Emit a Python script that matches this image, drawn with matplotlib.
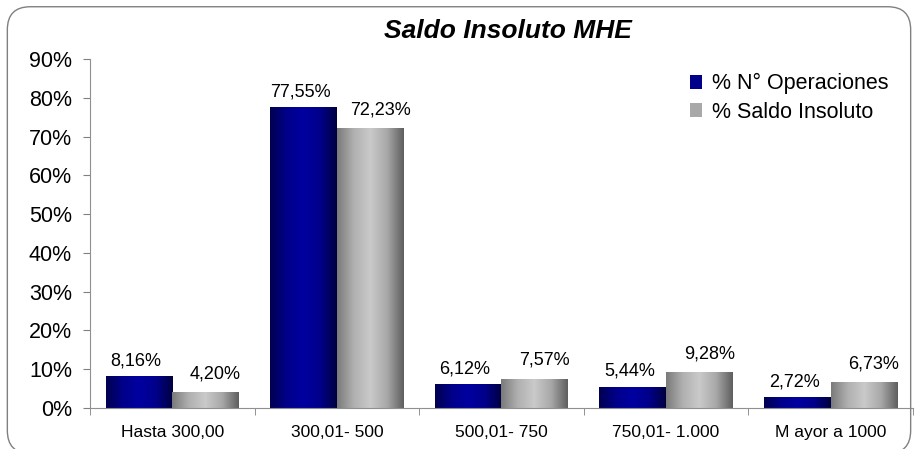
import numpy as np
import matplotlib
matplotlib.use("Agg")
import matplotlib.pyplot as plt
from matplotlib.colors import LinearSegmentedColormap
from matplotlib.patches import FancyBboxPatch, Patch

categories = ["Hasta 300,00", "300,01- 500", "500,01- 750", "750,01- 1.000", "M ayor a 1000"]
operaciones = [8.16, 77.55, 6.12, 5.44, 2.72]
saldo = [4.20, 72.23, 7.57, 9.28, 6.73]
ops_labels = ["8,16%", "77,55%", "6,12%", "5,44%", "2,72%"]
saldo_labels = ["4,20%", "72,23%", "7,57%", "9,28%", "6,73%"]
yticks = [0, 10, 20, 30, 40, 50, 60, 70, 80, 90]

plt.rcParams["font.family"] = ["Liberation Sans", "DejaVu Sans"]

blue_cmap = LinearSegmentedColormap.from_list(
    "blue", ["#000050", "#00008a", "#0000a0", "#00008a", "#000040"])
gray_cmap = LinearSegmentedColormap.from_list(
    "gray", ["#7a7a7a", "#b0b0b0", "#cacaca", "#a8a8a8", "#5e5e5e"])
grad = np.linspace(0, 1, 256).reshape(1, -1)

fig = plt.figure(figsize=(9.18, 4.49), dpi=100)
# marco redondeado alrededor de todo el grafico
fig.patches.append(FancyBboxPatch((0.008, -0.01), 0.984, 0.995,
                                  boxstyle="round,pad=0,rounding_size=0.025",
                                  transform=fig.transFigure, fill=False,
                                  edgecolor="#808080", linewidth=1.0,
                                  mutation_aspect=918 / 449))
ax = fig.add_axes([0.098, 0.0913, 0.8965, 0.777])

x = np.arange(len(categories))
w = 0.405
b1 = ax.bar(x - w / 2, operaciones, w, color="none")
b2 = ax.bar(x + w / 2, saldo, w, color="none")

# relleno con degradado horizontal dentro de cada barra
for bars, cmap in ((b1, blue_cmap), (b2, gray_cmap)):
    for p in bars:
        x0, y0 = p.get_x(), p.get_y()
        im = ax.imshow(grad, cmap=cmap, aspect="auto",
                       extent=[x0, x0 + p.get_width(), y0, y0 + p.get_height()],
                       zorder=2)
        im.set_clip_path(p)

for i in range(len(categories)):
    ax.annotate(ops_labels[i], (x[i] - w / 2 - 0.02, operaciones[i]),
                xytext=(0, 5), textcoords="offset points",
                ha="center", va="bottom", fontsize=13)
    ax.annotate(saldo_labels[i], (x[i] + w / 2 + 0.06, saldo[i]),
                xytext=(0, 7), textcoords="offset points",
                ha="center", va="bottom", fontsize=13)

ax.set_xlim(-0.5, len(categories) - 0.5)
ax.set_ylim(0, 90)
ax.set_yticks(yticks)
ax.set_yticklabels([f"{v}%" for v in yticks], fontsize=15.5)
ax.set_xticks(x)
ax.set_xticklabels(categories, fontsize=12.5)
ax.tick_params(axis="x", length=0, pad=12)
ax.set_xticks(np.arange(-0.5, len(categories)), minor=True)
ax.tick_params(axis="x", which="minor", length=5, color="#808080")
ax.tick_params(axis="y", length=5, color="#808080", pad=8)

for s in ("top", "right"):
    ax.spines[s].set_visible(False)
for s in ("left", "bottom"):
    ax.spines[s].set_color("#909090")

fig.text(0.553, 0.931, "Saldo Insoluto MHE", ha="center", va="center",
         fontsize=19, fontweight="bold", fontstyle="italic")

handles = [Patch(facecolor="#00008a"), Patch(facecolor="#a8a8a8")]
fig.legend(handles, ["% N° Operaciones", "% Saldo Insoluto"],
           loc="upper left", bbox_to_anchor=(0.73, 0.88), frameon=False,
           fontsize=15.5, handlelength=0.6, handleheight=0.6,
           handletextpad=0.45, labelspacing=0.35)

fig.savefig("out.png", dpi=100)
